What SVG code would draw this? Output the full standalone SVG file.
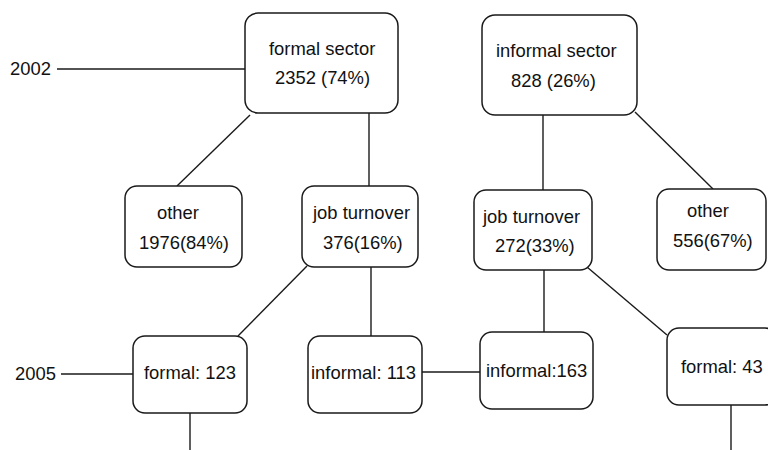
<svg xmlns="http://www.w3.org/2000/svg" width="768" height="450" viewBox="0 0 768 450">
<style>
.box{fill:#fff;stroke:#1a1a1a;stroke-width:1.5}
.ln{stroke:#1a1a1a;stroke-width:1.4;fill:none}
text{font-family:"Liberation Sans",Arial,sans-serif;font-size:18.4px;fill:#111}
</style>
<rect width="768" height="450" fill="#fff"/>
<g id="connectors">
<line class="ln" x1="57" y1="69" x2="245" y2="69"/>
<line class="ln" x1="61" y1="374" x2="133" y2="374"/>
<line class="ln" x1="250" y1="115" x2="177" y2="186"/>
<line class="ln" x1="369" y1="113" x2="369" y2="186"/>
<line class="ln" x1="543" y1="115" x2="543" y2="190"/>
<line class="ln" x1="635" y1="112" x2="713" y2="189"/>
<line class="ln" x1="307" y1="266" x2="238" y2="336"/>
<line class="ln" x1="371" y1="267" x2="371" y2="336"/>
<line class="ln" x1="544" y1="270" x2="544" y2="332"/>
<line class="ln" x1="587" y1="267" x2="667" y2="335"/>
<line class="ln" x1="422" y1="372" x2="480" y2="372"/>
<line class="ln" x1="190" y1="413" x2="190" y2="450"/>
<line class="ln" x1="731" y1="405" x2="731" y2="450"/>
</g>
<g id="label2002"><text x="10" y="75">2002</text></g>
<g id="label2005"><text x="15" y="380">2005</text></g>
<g id="formalSector">
<rect class="box" x="245" y="13" width="153" height="100" rx="13"/>
<text x="269" y="55">formal sector</text>
<text x="275" y="84">2352 (74%)</text>
</g>
<g id="informalSector">
<rect class="box" x="482" y="15" width="155" height="100" rx="13"/>
<text x="496" y="57">informal sector</text>
<text x="511" y="87">828 (26%)</text>
</g>
<g id="otherLeft">
<rect class="box" x="125" y="186" width="117" height="81" rx="12"/>
<text x="157" y="219">other</text>
<text x="139" y="249">1976(84%)</text>
</g>
<g id="jobTurnoverLeft">
<rect class="box" x="302" y="186" width="116" height="81" rx="12"/>
<text x="313" y="219">job turnover</text>
<text x="323" y="249">376(16%)</text>
</g>
<g id="jobTurnoverRight">
<rect class="box" x="474" y="190" width="118" height="80" rx="12"/>
<text x="483" y="223">job turnover</text>
<text x="495" y="252">272(33%)</text>
</g>
<g id="otherRight">
<rect class="box" x="657" y="189" width="109" height="81" rx="12"/>
<text x="687" y="217">other</text>
<text x="673" y="247">556(67%)</text>
</g>
<g id="formal123">
<rect class="box" x="133" y="336" width="114" height="77" rx="12"/>
<text x="144" y="379">formal: 123</text>
</g>
<g id="informal113">
<rect class="box" x="308" y="336" width="114" height="77" rx="12"/>
<text x="311" y="379">informal: 113</text>
</g>
<g id="informal163">
<rect class="box" x="480" y="332" width="113" height="77" rx="12"/>
<text x="486" y="377">informal:163</text>
</g>
<g id="formal43">
<rect class="box" x="667" y="328" width="110" height="77" rx="12"/>
<text x="681" y="373">formal: 43</text>
</g>
</svg>
